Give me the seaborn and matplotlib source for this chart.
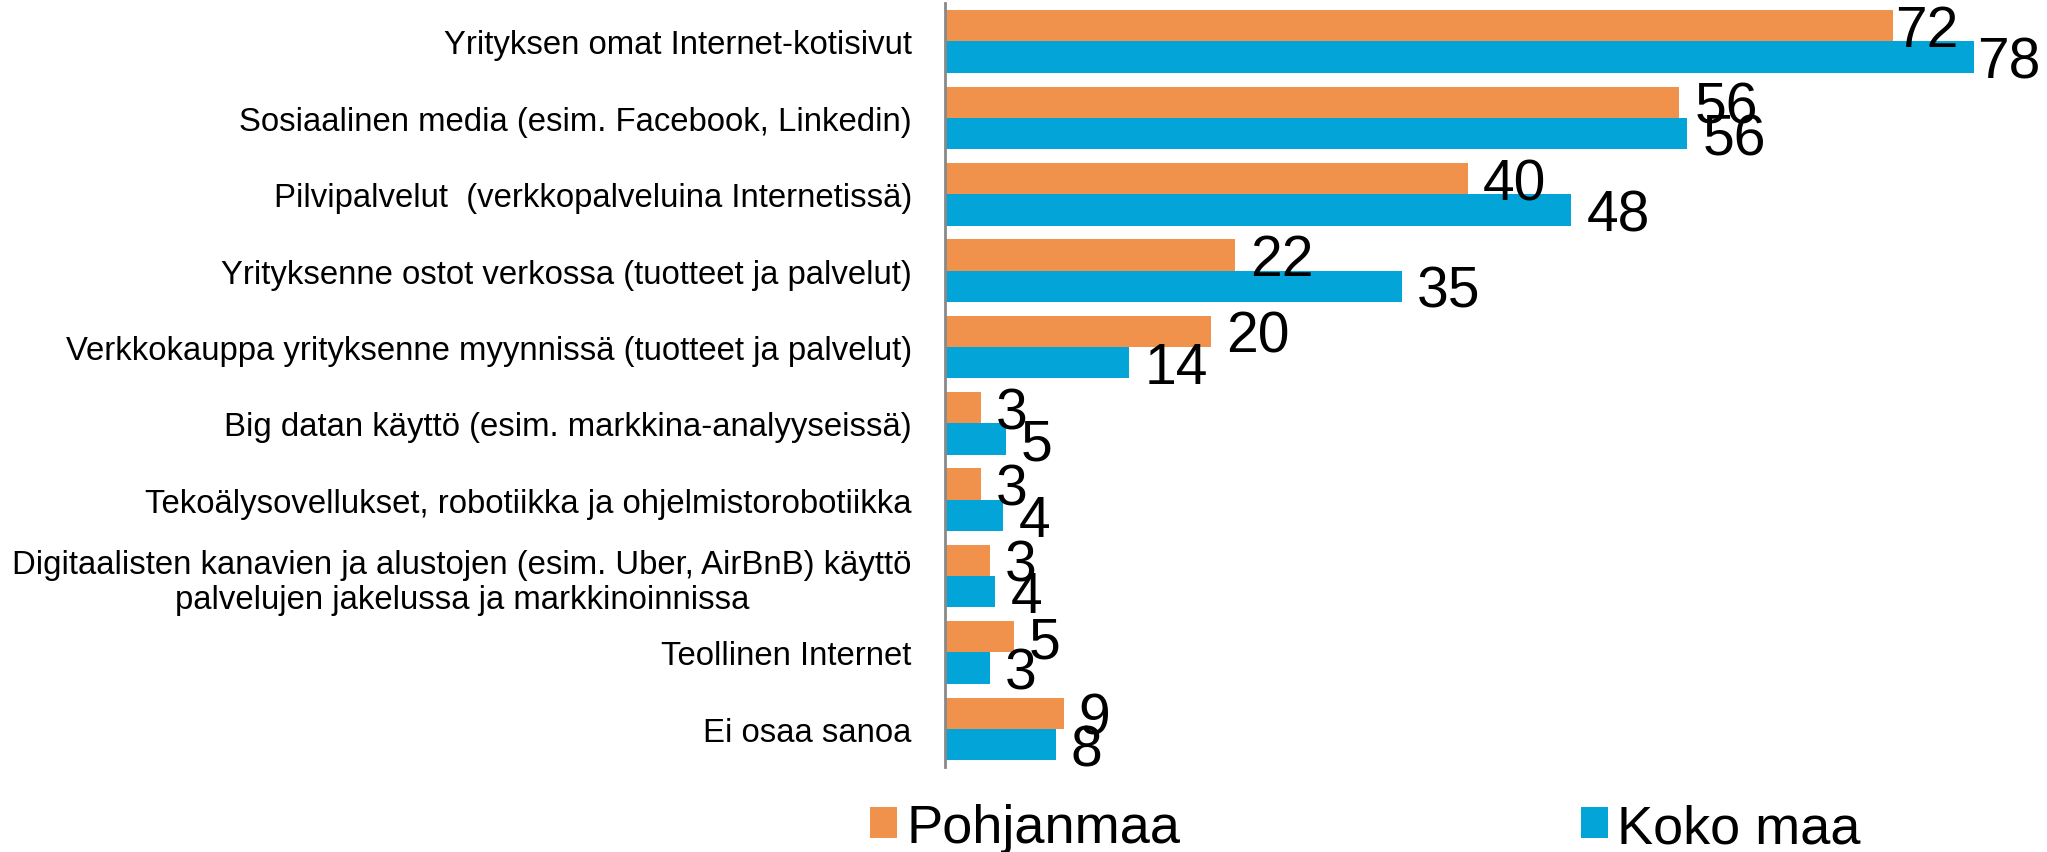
import pandas as pd
import numpy as np
import matplotlib
matplotlib.use("Agg")
import matplotlib.pyplot as plt
from matplotlib.patches import Patch
import seaborn as sns

# Categories (top to bottom)
categories = [
    "Yrityksen omat Internet-kotisivut",
    "Sosiaalinen media (esim. Facebook, Linkedin)",
    "Pilvipalvelut  (verkkopalveluina Internetissä)",
    "Yrityksenne ostot verkossa (tuotteet ja palvelut)",
    "Verkkokauppa yrityksenne myynnissä (tuotteet ja palvelut)",
    "Big datan käyttö (esim. markkina-analyyseissä)",
    "Tekoälysovellukset, robotiikka ja ohjelmistorobotiikka",
    "Digitaalisten kanavien ja alustojen (esim. Uber, AirBnB) käyttö\npalvelujen jakelussa ja markkinoinnissa",
    "Teollinen Internet",
    "Ei osaa sanoa",
]
series_names = ["Pohjanmaa", "Koko maa"]
# bar lengths (labels show rounded values)
pohjanmaa = [72.0, 55.8, 39.7, 22.0, 20.2, 2.7, 2.7, 3.4, 5.2, 9.0]
koko_maa = [78.2, 56.4, 47.6, 34.7, 14.0, 4.6, 4.4, 3.8, 3.4, 8.4]

colors = ["#F0924C", "#03A5D9"]

df = pd.DataFrame({
    "category": categories * 2,
    "value": pohjanmaa + koko_maa,
    "series": [series_names[0]] * len(categories) + [series_names[1]] * len(categories),
})

sns.set_style("white")
plt.rcParams["font.family"] = ["Liberation Sans", "DejaVu Sans"]
plt.rcParams["text.color"] = "black"
plt.rcParams["ytick.color"] = "black"

fig = plt.figure(figsize=(20.47, 8.53), dpi=100)
ax = fig.add_axes([0.4617, 0.0996, 0.976 - 0.4617, 0.995 - 0.0996])

sns.barplot(data=df, y="category", x="value", hue="series", orient="h",
            palette=colors, saturation=1, width=0.82, edgecolor="none",
            ax=ax, legend=False)

# Value labels, slightly below the bar centre like the original;
# the longest bars get their labels tucked closer so they stay in the figure
for cont, vals in zip(ax.containers, [pohjanmaa, koko_maa]):
    anns = ax.bar_label(cont, labels=[f"{v:.0f}" for v in vals], padding=2,
                        fontsize=41, color="black", clip_on=False)
    for a, v in zip(anns, vals):
        a.xyann = (2 if v > 70 else 11, -4)

ax.set_xlim(0, 80)
ax.set_xlabel("")
ax.set_ylabel("")
ax.set_xticks([])
ax.tick_params(axis="y", length=0, pad=24, labelsize=23.7, labelcolor="black")
for lab in ax.get_yticklabels():
    lab.set_multialignment("center")
for s in ["top", "right", "bottom"]:
    ax.spines[s].set_visible(False)
ax.spines["left"].set_color("#898989")
ax.spines["left"].set_linewidth(2)

handles = [Patch(facecolor=c, edgecolor="none") for c in colors]
fig.legend(handles, series_names, loc="center", bbox_to_anchor=(0.667, 0.028),
           ncol=2, frameon=False, fontsize=39, handlelength=0.5, handleheight=0.5,
           handletextpad=0.17, columnspacing=7.4, borderaxespad=0)

fig.savefig("out.png", dpi=100)
